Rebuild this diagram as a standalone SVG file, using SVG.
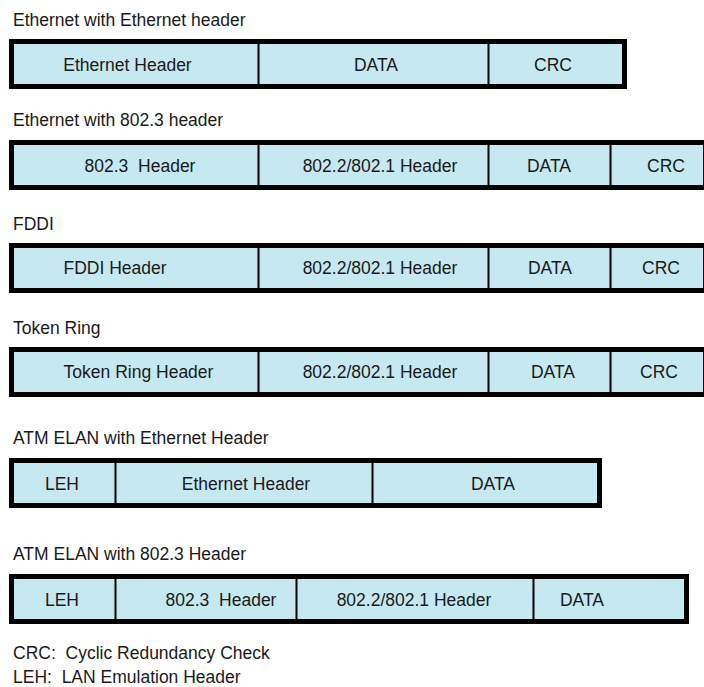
<svg xmlns="http://www.w3.org/2000/svg" width="704" height="687" viewBox="0 0 704 687">
<style>
text{font-family:"Liberation Sans",Arial,sans-serif;font-size:17.5px;fill:#1a1a1a;white-space:pre}
.c{text-anchor:middle}
.frame{fill:#c6e8f0;stroke:#000;stroke-width:5}
.div{stroke:#000;stroke-width:2}
</style>
<rect width="704" height="687" fill="#fff"/>

<g id="row1">
<text x="13" y="25.5">Ethernet with Ethernet header</text>
<rect class="frame" x="11.5" y="41.5" width="613" height="45"/>
<line class="div" x1="258.5" y1="44" x2="258.5" y2="84"/>
<line class="div" x1="488.5" y1="44" x2="488.5" y2="84"/>
<g id="r1-eth"><text class="c" x="127.5" y="70.5">Ethernet Header</text></g>
<g id="r1-data"><text class="c" x="376" y="70.5">DATA</text></g>
<g id="r1-crc"><text class="c" x="553" y="70.5">CRC</text></g>
</g>

<g id="row2">
<text x="13" y="125.5">Ethernet with 802.3 header</text>
<rect class="frame" x="11.5" y="142.5" width="694" height="45"/>
<line class="div" x1="258.5" y1="145" x2="258.5" y2="185"/>
<line class="div" x1="488.5" y1="145" x2="488.5" y2="185"/>
<line class="div" x1="610.5" y1="145" x2="610.5" y2="185"/>
<g id="r2-8023"><text class="c" x="140" y="171.5">802.3  Header</text></g>
<g id="r2-8022"><text class="c" x="380" y="171.5">802.2/802.1 Header</text></g>
<g id="r2-data"><text class="c" x="549" y="171.5">DATA</text></g>
<g id="r2-crc"><text class="c" x="666" y="171.5">CRC</text></g>
</g>

<g id="row3">
<text x="13" y="230">FDDI</text>
<rect class="frame" x="11.5" y="245.5" width="694" height="45"/>
<line class="div" x1="258.5" y1="248" x2="258.5" y2="288"/>
<line class="div" x1="488.5" y1="248" x2="488.5" y2="288"/>
<line class="div" x1="610.5" y1="248" x2="610.5" y2="288"/>
<g id="r3-fddi"><text class="c" x="115" y="274">FDDI Header</text></g>
<g id="r3-8022"><text class="c" x="380" y="274">802.2/802.1 Header</text></g>
<g id="r3-data"><text class="c" x="550" y="274">DATA</text></g>
<g id="r3-crc"><text class="c" x="661" y="274">CRC</text></g>
</g>

<g id="row4">
<text x="13" y="333.5">Token Ring</text>
<rect class="frame" x="11.5" y="349.5" width="694" height="45"/>
<line class="div" x1="258.5" y1="352" x2="258.5" y2="392"/>
<line class="div" x1="488.5" y1="352" x2="488.5" y2="392"/>
<line class="div" x1="610.5" y1="352" x2="610.5" y2="392"/>
<g id="r4-tr"><text class="c" x="138.5" y="377.5">Token Ring Header</text></g>
<g id="r4-8022"><text class="c" x="380" y="377.5">802.2/802.1 Header</text></g>
<g id="r4-data"><text class="c" x="553" y="377.5">DATA</text></g>
<g id="r4-crc"><text class="c" x="659" y="377.5">CRC</text></g>
</g>

<g id="row5">
<text x="13" y="443.5">ATM ELAN with Ethernet Header</text>
<rect class="frame" x="11.5" y="460.5" width="588" height="45"/>
<line class="div" x1="115.5" y1="463" x2="115.5" y2="503"/>
<line class="div" x1="372.5" y1="463" x2="372.5" y2="503"/>
<g id="r5-leh"><text class="c" x="62" y="489.5">LEH</text></g>
<g id="r5-eth"><text class="c" x="246" y="489.5">Ethernet Header</text></g>
<g id="r5-data"><text class="c" x="493" y="489.5">DATA</text></g>
</g>

<g id="row6">
<text x="13" y="559.5">ATM ELAN with 802.3 Header</text>
<rect class="frame" x="11.5" y="576.5" width="675" height="45"/>
<line class="div" x1="115.5" y1="579" x2="115.5" y2="619"/>
<line class="div" x1="296.5" y1="579" x2="296.5" y2="619"/>
<line class="div" x1="533.5" y1="579" x2="533.5" y2="619"/>
<g id="r6-leh"><text class="c" x="62" y="605.5">LEH</text></g>
<g id="r6-8023"><text class="c" x="221" y="605.5">802.3  Header</text></g>
<g id="r6-8022"><text class="c" x="414" y="605.5">802.2/802.1 Header</text></g>
<g id="r6-data"><text class="c" x="582" y="605.5">DATA</text></g>
</g>

<g id="legend">
<text x="13" y="659">CRC:  Cyclic Redundancy Check</text>
<text x="13" y="683">LEH:  LAN Emulation Header</text>
</g>
<g id="connectors"/>
</svg>
